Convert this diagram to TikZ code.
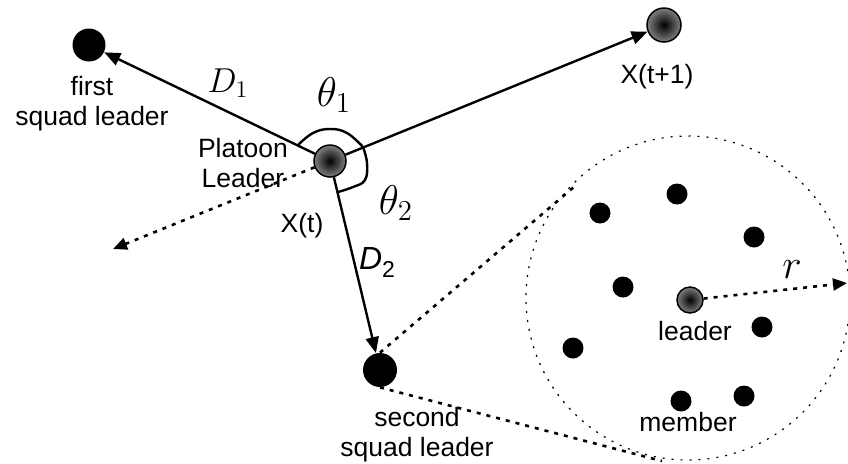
\documentclass[tikz,border=0pt]{standalone}
\usepackage{fontspec}
\setmainfont{Liberation Sans}
\usetikzlibrary{arrows.meta}
\begin{document}
\begin{tikzpicture}[x=0.5pt,y=-0.5pt,
  lbl/.style={font=\fontsize{13.25}{15}\selectfont, inner sep=0pt, align=center},
  blackdot/.style={circle, fill=black, inner sep=0pt, minimum size=#1},
  graydot/.style={circle, draw=black, line width=0.75pt, shading=radial, inner color=black, outer color=black!50, inner sep=0pt, minimum size=#1},
  arr/.style={line width=1.2pt, -{Triangle[length=8pt,width=6.5pt]}},
  dotarr/.style={line width=1.3pt, dash pattern=on 2pt off 3pt, -{Triangle[length=7pt,width=6pt]}},
  dotln/.style={line width=1.3pt, dash pattern=on 2pt off 3pt},
  circln/.style={line width=0.6pt, dash pattern=on 1pt off 3.5pt},
  arcln/.style={line width=1.2pt}]
\useasboundingbox (0,0) rectangle (848,463);

% zoom circle
\node[circle, circln, draw, minimum size=162pt, inner sep=0pt] (zc) at (688,298) {};

% main nodes
\node[graydot=16pt] (pl) at (330,161) {};
\node[blackdot=16.5pt] (fsl) at (89,45) {};
\node[graydot=17pt] (next) at (664,25) {};
\node[blackdot=17pt] (ssl) at (380,370) {};

% group nodes
\node[graydot=13pt] (ldr) at (690,300) {};
\node[blackdot=10.5pt] (m1) at (600,213) {};
\node[blackdot=10.5pt] (m2) at (677,194) {};
\node[blackdot=10.5pt] (m3) at (754,237) {};
\node[blackdot=10.5pt] (m4) at (623,287) {};
\node[blackdot=10.5pt] (m5) at (762,327) {};
\node[blackdot=10.5pt] (m6) at (573,348) {};
\node[blackdot=10.5pt] (m7) at (681,401) {};
\node[blackdot=10.5pt] (m8) at (744,396) {};

% free ends
\coordinate (back) at (113,249);
\coordinate (rend) at (847,283);
\coordinate (t1) at (575,186);
\coordinate (t2) at (662,461);

% connectors
\draw[arr] (pl) -- (fsl);
\draw[arr] (pl) -- (next);
\draw[arr] (pl) -- (ssl);
\draw[dotarr] (pl) -- (back);
\draw[dotarr] (ldr) -- (rend);
\draw[dotln] (ssl.north) -- (t1);
\draw[dotln] (ssl.south) -- (t2);

% angle arcs
\draw[arcln] plot[smooth, tension=0.7] coordinates {(298,145) (313,133) (330,129) (347,133) (363,147)};
\draw[arcln] plot[smooth, tension=0.7] coordinates {(363,147) (367,163) (365,180) (353,187) (338,192)};

% labels
\node[lbl] (tfsl) at (92,104) {first\\squad leader};
\node[lbl] (tpl) at (243,163) {Platoon\\Leader};
\node[lbl] (txt) at (302,226) {X(t)};
\node[lbl] (txt1) at (657,77) {X(t+1)};
\node[lbl] (tssl) at (417,435) {second\\squad leader};
\node[lbl] (tldr) at (695,331) {leader};
\node[lbl] (tmem) at (688,422) {member};
\node[inner sep=0pt, font=\fontsize{17}{20}\selectfont] (td1) at (228,83) {$D_1$};
\node[inner sep=0pt, font=\fontsize{22.5}{26}\selectfont] (tth1) at (334,95) {$\theta_1$};
\node[inner sep=0pt, font=\fontsize{22.5}{26}\selectfont] (tth2) at (396,203) {$\theta_2$};
\node[inner sep=0pt, font=\fontsize{16}{19}\selectfont] (td2) at (377,262) {\textit{D}\raisebox{-0.25em}{\fontsize{11.5}{13}\selectfont 2}};
\node[inner sep=0pt, font=\fontsize{21}{24}\selectfont] (tr) at (792,270) {$r$};
\end{tikzpicture}
\end{document}
